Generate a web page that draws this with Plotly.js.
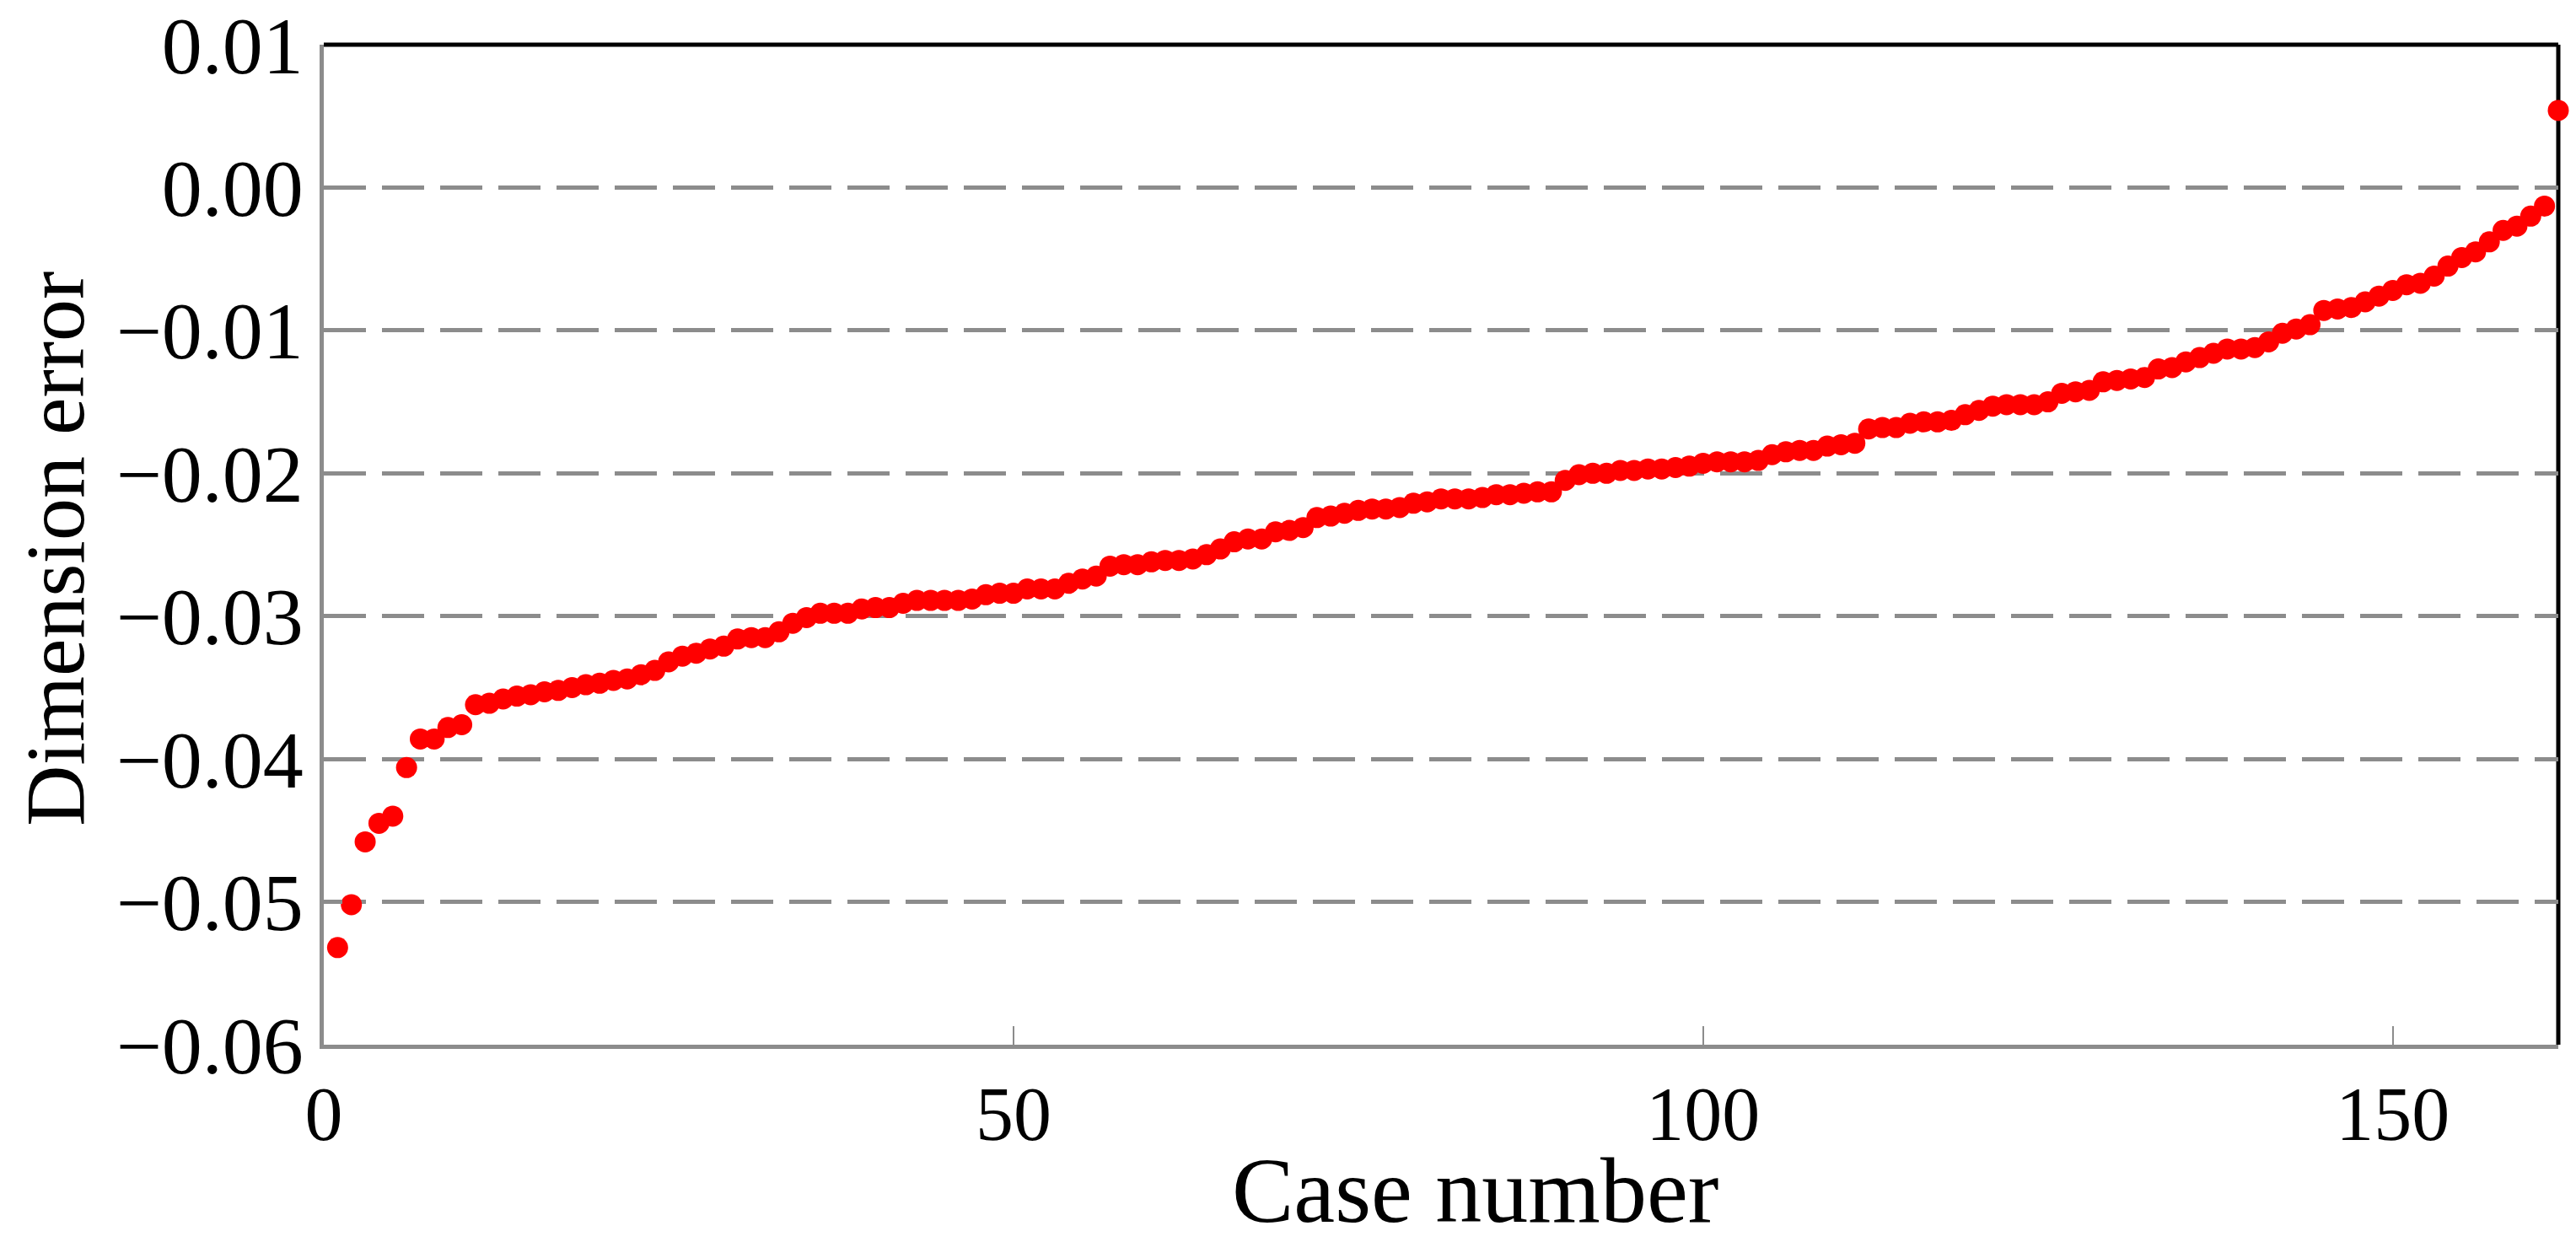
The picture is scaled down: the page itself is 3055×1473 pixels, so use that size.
<!DOCTYPE html>
<html>
<head>
<meta charset="utf-8">
<script src="https://cdn.plot.ly/plotly-3.0.1.min.js"></script>
<style>html,body{margin:0;padding:0;background:#fff;}#chart{width:3055px;height:1473px;}</style>
</head>
<body>
<div id="chart"></div>
<script>
const caseNumbers = [];
for (let i = 1; i <= 162; i++) caseNumbers.push(i);

const dimensionError = [
  -0.0532, -0.0502, -0.0458, -0.0445, -0.0440, -0.0406, -0.0386, -0.0386, -0.0378, -0.0376,
  -0.0362, -0.0361, -0.0358, -0.0356, -0.0355, -0.0353, -0.0352, -0.0350, -0.0348, -0.0347,
  -0.0345, -0.0344, -0.0341, -0.0338, -0.0332, -0.0328, -0.0326, -0.0323, -0.0321, -0.0316,
  -0.0315, -0.0315, -0.0311, -0.0305, -0.0301, -0.0298, -0.0298, -0.0298, -0.0295, -0.0294,
  -0.0294, -0.0291, -0.0289, -0.0289, -0.0289, -0.0289, -0.0288, -0.0285, -0.0284, -0.0284,
  -0.0281, -0.0281, -0.0281, -0.0277, -0.0274, -0.0272, -0.0265, -0.0264, -0.0264, -0.0262,
  -0.0261, -0.0261, -0.0260, -0.0257, -0.0253, -0.0248, -0.0246, -0.0246, -0.0241, -0.0240,
  -0.0238, -0.0231, -0.0230, -0.0228, -0.0226, -0.0225, -0.0225, -0.0224, -0.0221, -0.0220,
  -0.0218, -0.0218, -0.0218, -0.0217, -0.0215, -0.0215, -0.0214, -0.0213, -0.0213, -0.0205,
  -0.0201, -0.0200, -0.0200, -0.0198, -0.0198, -0.0197, -0.0197, -0.0196, -0.0195, -0.0193,
  -0.0192, -0.0192, -0.0192, -0.0191, -0.0187, -0.0185, -0.0184, -0.0184, -0.0181, -0.0180,
  -0.0179, -0.0169, -0.0168, -0.0168, -0.0165, -0.0164, -0.0164, -0.0163, -0.0159, -0.0156,
  -0.0153, -0.0152, -0.0152, -0.0152, -0.0150, -0.0144, -0.0143, -0.0142, -0.0136, -0.0135,
  -0.0134, -0.0133, -0.0127, -0.0126, -0.0122, -0.0119, -0.0116, -0.0113, -0.0113, -0.0112,
  -0.0108, -0.0102, -0.0099, -0.0096, -0.0086, -0.0085, -0.0084, -0.0080, -0.0076, -0.0072,
  -0.0068, -0.0067, -0.0062, -0.0055, -0.0049, -0.0045, -0.0038, -0.0030, -0.0027, -0.0020,
  -0.0013, 0.0054
];

const xTickValues = [0, 50, 100, 150];
const yTickValues = [0.01, 0.00, -0.01, -0.02, -0.03, -0.04, -0.05, -0.06];
const xTitle = 'Case number';
const yTitle = 'Dimension error';

const FONT = 'Liberation Serif, Times New Roman, serif';
const GRAY = '#8c8c8c';

const trace = {
  x: caseNumbers,
  y: dimensionError,
  type: 'scatter',
  mode: 'markers',
  marker: {color: '#ff0000', size: 25, line: {width: 0}},
  cliponaxis: false,
  showlegend: false
};

const layout = {
  width: 3055,
  height: 1473,
  margin: {l: 384, r: 21, t: 53, b: 234},
  paper_bgcolor: '#ffffff',
  plot_bgcolor: '#ffffff',
  font: {family: FONT, color: '#000000', size: 94},
  xaxis: {
    range: [0, 162],
    tickvals: xTickValues,
    ticktext: xTickValues.map(String),
    showgrid: false,
    zeroline: false,
    showline: true,
    linecolor: GRAY,
    linewidth: 5,
    ticks: 'inside',
    ticklen: 22,
    tickwidth: 2,
    tickcolor: GRAY,
    ticklabelstandoff: 0,
    tickfont: {family: FONT, size: 90, color: '#000'}
  },
  yaxis: {
    range: [-0.06, 0.01],
    tickvals: yTickValues,
    tickformat: '.2f',
    showgrid: true,
    gridcolor: GRAY,
    gridwidth: 5,
    griddash: '50px,19px',
    zeroline: false,
    showline: true,
    linecolor: GRAY,
    linewidth: 5,
    ticks: 'inside',
    ticklen: 22,
    tickwidth: 5,
    tickcolor: GRAY,
    ticklabelstandoff: 0,
    tickfont: {family: FONT, size: 96, color: '#000'}
  },
  shapes: [
    {type: 'line', xref: 'paper', yref: 'paper', x0: 0, x1: 1, y0: 1, y1: 1,
     line: {color: '#000', width: 5}, layer: 'below'},
    {type: 'line', xref: 'paper', yref: 'paper', x0: 1, x1: 1, y0: 0, y1: 1,
     line: {color: '#000', width: 5}, layer: 'below'}
  ],
  annotations: [
    {text: xTitle, xref: 'paper', yref: 'paper', x: 0.5151, y: -0.146,
     xanchor: 'center', yanchor: 'middle', showarrow: false,
     font: {family: FONT, size: 110, color: '#000'}},
    {text: yTitle, xref: 'paper', yref: 'paper', x: -0.120, y: 0.496,
     xanchor: 'center', yanchor: 'middle', textangle: -90, showarrow: false,
     font: {family: FONT, size: 100, color: '#000'}}
  ]
};

Plotly.newPlot('chart', [trace], layout, {staticPlot: true, displayModeBar: false});
</script>
</body>
</html>
